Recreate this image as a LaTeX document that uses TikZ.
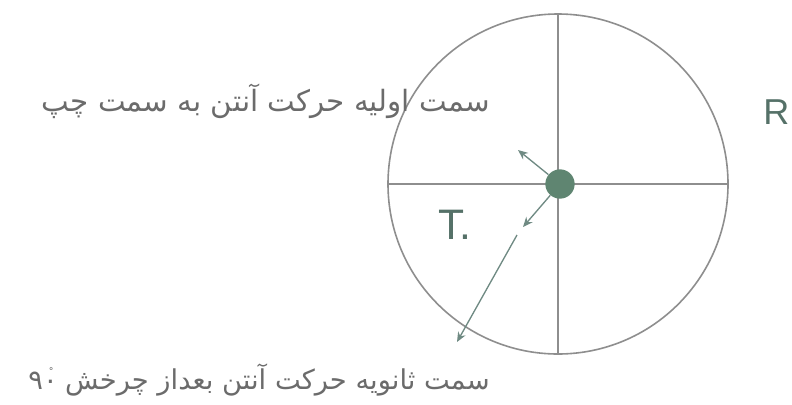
\documentclass[tikz,border=0pt]{standalone}
\usepackage{fontspec}
\usepackage{xcolor}
\setmainfont{Liberation Sans}
\newfontfamily\farsifont[Script=Arabic]{DejaVu Sans}
\TeXXeTstate=1
\usetikzlibrary{arrows.meta}
\definecolor{Rim}{HTML}{8E8E8E}
\definecolor{Hub}{HTML}{5F8571}
\definecolor{Needle}{HTML}{6F8A83}
\definecolor{Caption}{HTML}{6B6B6B}
\definecolor{Mark}{HTML}{557168}
\tikzset{
  dish/.style={draw=Rim,circle,line width=1.2pt,minimum size=255pt,inner sep=0pt},
  axis/.style={draw=Rim,line width=1.2pt},
  hub/.style={circle,fill=Hub,minimum size=22pt,inner sep=0pt},
  dir/.style={-{Stealth[length=2.6mm,width=2.2mm]},draw=Needle,line width=1pt},
  caption/.style={font=\farsifont\fontsize{22}{26}\selectfont,text=Caption,anchor=east,inner sep=0pt},
  letter/.style={font=\fontsize{32}{36}\selectfont,text=Mark,anchor=west,inner sep=0pt}
}

\begin{document}
\begin{tikzpicture}[x=0.75pt,y=-0.75pt]
  \useasboundingbox (0,0) rectangle (792,404);
  \node[dish] (disk) at (558,184) {};
  \draw[axis] (disk.west) -- (disk.east);
  \draw[axis] (disk.north) -- (disk.south);
  \node[hub] (hub) at (560,184) {};
  \coordinate (first) at (518,150);
  \coordinate (turn) at (523,227);
  \coordinate (tail) at (517,235);
  \coordinate (tip) at (457,342);
  \draw[dir] (hub) -- (first);
  \draw[dir] (hub) -- (turn);
  \draw[dir] (tail) -- (tip);
  \node[letter] (tx) at (438,225) {T.};
  \node[letter,font=\fontsize{27}{30}\selectfont] (rx) at (763,112) {R};
  \node[caption] (before) at (490,101) {\beginR سمت اولیه حرکت آنتن به سمت چپ\endR};
  \node[caption,font=\farsifont\fontsize{20.5}{24}\selectfont] (after) at (490,380) {\beginR سمت ثانویه حرکت آنتن بعداز چرخش \beginL۹۰\kern-0.32em\raisebox{0.55em}{\scriptsize °}\kern0.1em\endL{}\endR};
\end{tikzpicture}
\end{document}
